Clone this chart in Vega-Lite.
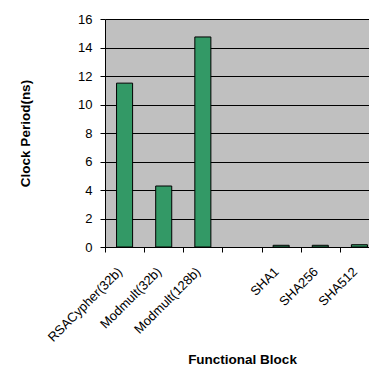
{
  "$schema": "https://vega.github.io/schema/vega-lite/v6.json",
  "autosize": "none",
  "padding": {"left": 105, "top": 19, "right": 0, "bottom": 120},
  "width": 274,
  "height": 228,
  "background": "white",
  "data": {
    "values": [
      {"block": "RSACypher(32b)", "period": 11.5},
      {"block": "Modmult(32b)", "period": 4.28},
      {"block": "Modmult(128b)", "period": 14.74},
      {"block": "SHA1", "period": 0.12},
      {"block": "SHA256", "period": 0.12},
      {"block": "SHA512", "period": 0.16}
    ]
  },
  "mark": {"type": "bar", "fill": "#339966", "stroke": "#000000", "strokeWidth": 1, "width": {"band": 0.41}},
  "encoding": {
    "x": {
      "field": "block",
      "type": "nominal",
      "sort": null,
      "scale": {"domain": ["RSACypher(32b)", "Modmult(32b)", "Modmult(128b)", " ", "SHA1", "SHA256", "SHA512"], "paddingInner": 0, "paddingOuter": 0},
      "axis": {
        "title": "Functional Block",
        "tickBand": "extent",
        "labelAngle": -45,
        "labelFont": "Liberation Sans",
        "labelFontSize": 13,
        "labelColor": "#000000",
        "labelPadding": 13,
        "labelOffset": -9,
        "tickSize": 5,
        "tickColor": "#000000",
        "domainColor": "#000000",
        "grid": false,
        "titleFont": "Liberation Sans",
        "titleFontSize": 13.5,
        "titleFontWeight": "bold",
        "titleColor": "#000000",
        "titlePadding": 8
      }
    },
    "y": {
      "field": "period",
      "type": "quantitative",
      "scale": {"domain": [0, 16], "nice": false},
      "axis": {
        "title": "Clock Period(ns)",
        "values": [0, 2, 4, 6, 8, 10, 12, 14, 16],
        "grid": true,
        "gridColor": "#000000",
        "gridOpacity": 1,
        "gridWidth": 1,
        "labelFont": "Liberation Sans",
        "labelFontSize": 13,
        "labelColor": "#000000",
        "labelPadding": 8,
        "tickSize": 5,
        "tickColor": "#000000",
        "domainColor": "#000000",
        "titleFont": "Liberation Sans",
        "titleFontSize": 13.5,
        "titleFontWeight": "bold",
        "titleColor": "#000000",
        "titlePadding": 45
      }
    }
  },
  "config": {
    "view": {"fill": "#C0C0C0", "stroke": null}
  }
}
